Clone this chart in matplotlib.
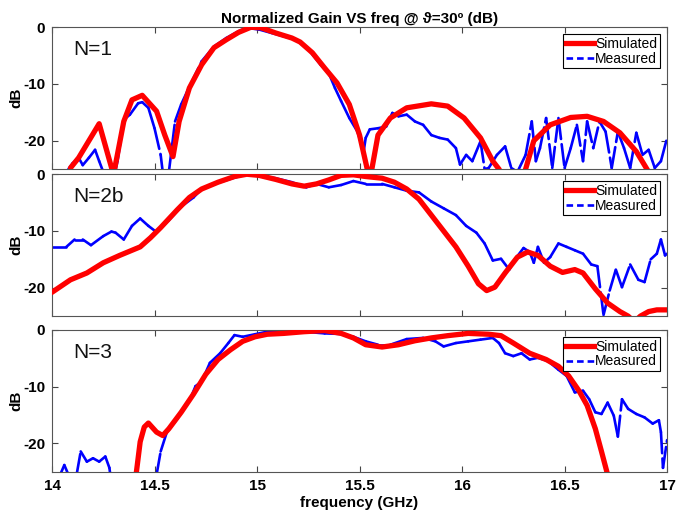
import matplotlib
matplotlib.use("Agg")
from matplotlib import pyplot as plt
from matplotlib.collections import LineCollection
from matplotlib.lines import Line2D
import numpy as np

plt.rcParams['font.family'] = ['Liberation Sans', 'DejaVu Sans']

# N=1
f1_sim = [14.09, 14.13, 14.23, 14.30, 14.35, 14.39, 14.44, 14.51, 14.55, 14.59, 14.62,
          14.67, 14.73, 14.79, 14.85, 14.91, 14.97, 15.02, 15.09, 15.17, 15.21, 15.27,
          15.33, 15.39, 15.45, 15.50, 15.55, 15.59, 15.65, 15.73, 15.85, 15.93, 16.01,
          16.09, 16.15, 16.18, 16.25, 16.31, 16.35, 16.43, 16.53, 16.61, 16.69, 16.77,
          16.85, 16.91]
g1_sim = [-24.8, -23.0, -17.0, -26.0, -16.6, -12.8, -12.0, -14.8, -19.0, -22.8, -16.6,
          -10.7, -6.6, -3.6, -2.2, -0.9, 0.0, -0.1, -1.0, -1.9, -2.6, -4.5,
          -7.2, -9.8, -13.6, -19.0, -27.0, -19.0, -16.0, -14.2, -13.5, -13.9, -16.0,
          -19.5, -23.6, -25.0, -30.0, -25.0, -20.0, -17.2, -15.9, -15.7, -16.6, -18.6,
          -21.9, -25.5]
f1_meas = [14.08, 14.10, 14.13, 14.15, 14.18, 14.21, 14.23, 14.25, 14.28, 14.32, 14.35,
           14.38, 14.42, 14.44, 14.47, 14.50, 14.53, 14.54, 14.56, 14.57, 14.60, 14.63,
           14.67, 14.73, 14.79, 14.85, 14.91, 14.95, 15.01, 15.07, 15.13, 15.19, 15.25,
           15.31, 15.35, 15.38, 15.41, 15.45, 15.49, 15.52, 15.53, 15.55, 15.59, 15.63,
           15.66, 15.69, 15.73, 15.77, 15.81, 15.85, 15.89, 15.93, 15.97, 15.99, 16.02,
           16.05, 16.09, 16.11, 16.13, 16.17, 16.21, 16.24, 16.27, 16.31, 16.34, 16.36,
           16.38, 16.41, 16.44, 16.47, 16.50, 16.53, 16.56, 16.59, 16.61, 16.64, 16.67,
           16.70, 16.73, 16.76, 16.79, 16.82, 16.85, 16.88, 16.91, 16.94, 16.97, 17.00]
g1_meas = [-25.0, -24.0, -23.0, -24.3, -23.0, -21.6, -23.6, -25.5, -30.0, -23.5, -16.3,
           -15.4, -13.4, -13.2, -14.2, -17.8, -22.5, -25.5, -30.0, -25.5, -16.6, -13.6,
           -10.5, -6.0, -3.4, -1.9, -0.7, -0.1, -0.4, -1.0, -1.6, -2.2, -3.9,
           -6.6, -8.1, -10.7, -13.0, -16.0, -18.4, -21.9, -19.5, -18.0, -17.8, -17.5,
           -15.1, -15.7, -15.4, -16.6, -17.2, -19.0, -19.5, -19.8, -21.3, -24.2, -22.5,
           -23.6, -20.1, -25.0, -24.8, -22.5, -21.0, -24.8, -25.5, -22.5, -16.6, -23.6,
           -21.3, -16.0, -24.8, -16.0, -24.8, -21.3, -17.2, -23.6, -16.6, -21.3, -16.6,
           -18.4, -24.8, -18.4, -21.3, -24.8, -18.6, -22.5, -21.6, -24.8, -23.6, -19.5]

# N=2b
f2_sim = [14.00, 14.09, 14.17, 14.25, 14.33, 14.43, 14.48, 14.53, 14.61, 14.67, 14.73,
          14.81, 14.89, 14.95, 15.01, 15.09, 15.17, 15.23, 15.29, 15.35, 15.41, 15.47,
          15.53, 15.61, 15.67, 15.73, 15.79, 15.85, 15.91, 15.97, 16.03, 16.08, 16.12,
          16.16, 16.21, 16.27, 16.32, 16.37, 16.43, 16.49, 16.55, 16.59, 16.65, 16.71,
          16.77, 16.81, 16.84, 16.87, 16.91, 16.95, 17.00]
g2_sim = [-20.8, -18.6, -17.4, -15.6, -14.3, -12.8, -11.2, -9.4, -6.3, -4.1, -2.6,
          -1.4, -0.4, 0.0, -0.2, -0.9, -1.7, -2.1, -1.7, -1.0, -0.2, -0.1,
          -0.4, -0.7, -1.4, -2.6, -4.4, -7.2, -10.0, -12.8, -16.2, -19.3, -20.5,
          -19.9, -17.4, -14.6, -13.7, -14.3, -16.2, -17.3, -16.8, -17.4, -20.2, -22.7,
          -24.2, -25.0, -26.0, -25.0, -24.2, -23.9, -23.9]
f2_meas = [14.00, 14.07, 14.11, 14.15, 14.19, 14.25, 14.29, 14.31, 14.35, 14.39, 14.43,
           14.47, 14.51, 14.57, 14.63, 14.69, 14.73, 14.81, 14.89, 14.95, 15.01, 15.09,
           15.17, 15.24, 15.29, 15.35, 15.41, 15.47, 15.53, 15.61, 15.67, 15.73, 15.79,
           15.85, 15.91, 15.97, 16.02, 16.07, 16.11, 16.15, 16.19, 16.23, 16.26, 16.30,
           16.33, 16.35, 16.37, 16.40, 16.43, 16.47, 16.51, 16.55, 16.59, 16.63, 16.66,
           16.69, 16.72, 16.75, 16.78, 16.82, 16.86, 16.89, 16.92, 16.95, 16.97, 16.99,
           17.00]
g2_meas = [-12.8, -12.8, -11.5, -11.5, -12.5, -10.9, -10.1, -10.3, -11.5, -9.1, -7.8,
           -9.1, -10.2, -8.1, -5.7, -4.1, -2.6, -1.5, -0.6, 0.0, -0.2, -0.7,
           -1.4, -2.3, -1.7, -2.3, -1.9, -1.2, -1.7, -1.7, -2.3, -2.9, -3.2,
           -4.8, -6.0, -7.2, -9.1, -10.3, -12.2, -15.2, -14.9, -16.8, -14.9, -13.0,
           -13.7, -15.6, -12.8, -15.6, -14.6, -12.2, -12.8, -13.4, -14.0, -15.9, -16.2,
           -24.8, -20.5, -16.8, -19.9, -15.9, -18.6, -19.0, -15.0, -14.0, -11.5, -14.3,
           -14.0]

# N=3
f3_sim = [14.41, 14.43, 14.45, 14.47, 14.51, 14.54, 14.57, 14.63, 14.69, 14.75, 14.81,
          14.87, 14.93, 14.99, 15.05, 15.13, 15.23, 15.33, 15.41, 15.47, 15.53, 15.61,
          15.69, 15.77, 15.85, 15.93, 16.03, 16.13, 16.19, 16.25, 16.33, 16.41, 16.47,
          16.52, 16.57, 16.61, 16.65, 16.68, 16.71]
g3_sim = [-25.5, -19.7, -17.1, -16.4, -18.0, -18.6, -17.4, -14.5, -11.3, -7.8, -5.2,
          -3.5, -2.0, -1.2, -0.75, -0.6, -0.3, -0.1, -0.6, -1.4, -2.6, -3.0,
          -2.6, -1.9, -1.4, -1.0, -0.6, -0.75, -1.0, -2.3, -4.1, -5.2, -6.4,
          -8.1, -10.7, -13.3, -17.4, -21.4, -25.5]
f3_meas = [14.04, 14.06, 14.08, 14.10, 14.12, 14.14, 14.17, 14.20, 14.23, 14.26, 14.28,
           14.30, 14.50, 14.51, 14.53, 14.56, 14.61, 14.67, 14.70, 14.73, 14.77, 14.82,
           14.86, 14.89, 14.93, 14.99, 15.05, 15.13, 15.23, 15.33, 15.41, 15.47, 15.53,
           15.59, 15.65, 15.73, 15.81, 15.87, 15.91, 15.97, 16.03, 16.09, 16.15, 16.18,
           16.21, 16.25, 16.29, 16.33, 16.37, 16.42, 16.47, 16.51, 16.55, 16.59, 16.62,
           16.65, 16.68, 16.71, 16.74, 16.76, 16.78, 16.81, 16.85, 16.89, 16.93, 16.96,
           16.97, 16.98, 17.00]
g3_meas = [-25.5, -23.8, -25.5, -30.0, -25.5, -21.4, -23.2, -22.6, -23.2, -22.3, -24.3,
           -30.0, -30.0, -25.5, -21.4, -18.0, -15.7, -12.5, -9.9, -9.1, -5.8, -4.1,
           -2.3, -0.9, -1.2, -0.75, -0.3, -0.1, -0.3, -0.6, -0.7, -1.2, -2.0,
           -2.6, -2.6, -1.6, -1.4, -2.0, -2.9, -2.3, -2.0, -1.7, -1.4, -2.3,
           -4.1, -4.6, -4.1, -5.2, -4.9, -5.5, -7.0, -8.1, -11.0, -10.7, -12.2,
           -14.5, -14.8, -12.8, -15.1, -18.8, -12.2, -13.9, -14.8, -15.4, -16.5, -15.9,
           -18.0, -24.3, -19.4]

panels = [
    ("N=1", f1_sim, g1_sim, f1_meas, g1_meas),
    ("N=2b", f2_sim, g2_sim, f2_meas, g2_meas),
    ("N=3", f3_sim, g3_sim, f3_meas, g3_meas),
]

x_ticks = [14, 14.5, 15, 15.5, 16, 16.5, 17]
y_ticks = [-20, -10, 0]

fig = plt.figure(figsize=(6.88, 5.14), dpi=100)
left, width = 0.0756, 0.894
bottoms = [0.671, 0.385, 0.082]
height = 0.276

for i, (name, fs, gs, fm, gm) in enumerate(panels):
    ax = fig.add_axes([left, bottoms[i], width, height])

    # measured: one dashed segment per sample step, so the dash pattern
    # restarts each step (solid on short steps, broken on long steep runs)
    pts = np.column_stack([fm, gm])
    segs = np.stack([pts[:-1], pts[1:]], axis=1)
    lc = LineCollection(segs, colors='#0000ff', linewidths=1.9,
                        linestyles=[(0, (8.0, 2.0))], capstyle='round', zorder=2)
    ax.add_collection(lc)

    ax.plot(fs, gs, color='#ff0000', lw=3.8, solid_capstyle='round',
            solid_joinstyle='round', zorder=3)

    ax.set_xlim(14, 17)
    ax.set_ylim(-25, 0)
    ax.set_xticks(x_ticks)
    ax.set_yticks(y_ticks)
    ax.set_yticklabels([str(t) for t in y_ticks], fontsize=11, fontweight='bold')
    ax.tick_params(direction='in', top=True, right=True, length=4, width=0.8,
                   color='#444444', pad=5)
    if i < 2:
        ax.set_xticklabels([])
    else:
        ax.set_xticklabels(['14', '14.5', '15', '15.5', '16', '16.5', '17'],
                           fontsize=11, fontweight='bold')
        ax.set_xlabel('frequency (GHz)', fontsize=11, fontweight='bold', labelpad=2)
    for s in ax.spines.values():
        s.set_color('#555555')
        s.set_linewidth(0.8)
    ax.set_ylabel('dB', fontsize=11, fontweight='bold', labelpad=0)
    ax.text(0.035, 0.84, name, transform=ax.transAxes, fontsize=15,
            va='center', ha='left', color='#111111')

    handles = [Line2D([], [], color='#ff0000', lw=3.8),
               Line2D([], [], color='#0000ff', lw=1.9, ls=(0, (2.5, 1.5)))]
    leg = ax.legend(handles, ['Simulated', 'Measured'], loc='upper right',
                    fontsize=10, handlelength=2.0, handletextpad=0.1,
                    borderpad=0.2, labelspacing=0.05, borderaxespad=0.5,
                    fancybox=False, framealpha=1)
    leg.get_frame().set_edgecolor('black')
    leg.get_frame().set_linewidth(0.8)

    if i == 0:
        ax.set_title('Normalized Gain VS freq @ \u03d1=30\u00ba (dB)',
                     fontsize=11, fontweight='bold', pad=3)

fig.savefig('out.png', dpi=100)
